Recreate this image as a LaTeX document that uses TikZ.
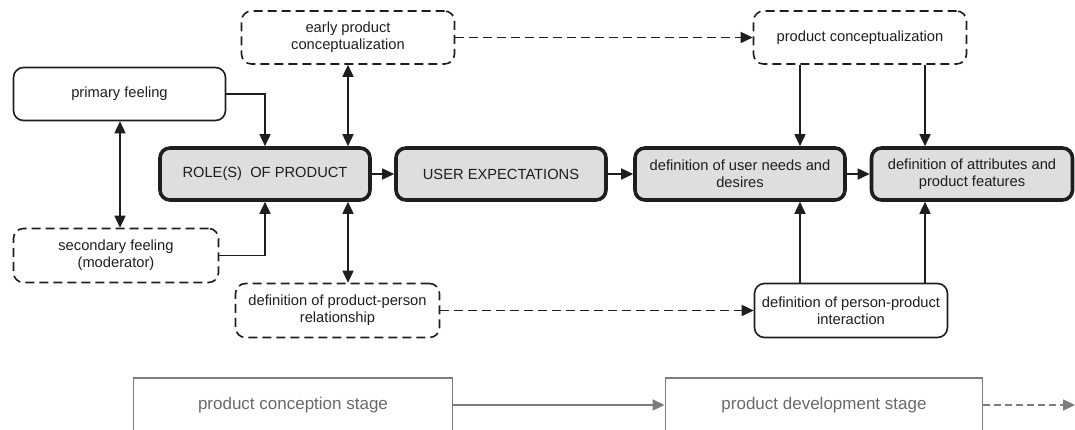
\documentclass[tikz,border=0pt]{standalone}
\usepackage{fontspec}
\setmainfont{Liberation Sans}
\usetikzlibrary{arrows.meta}
\definecolor{maingray}{RGB}{222,222,222}
\definecolor{stagegray}{RGB}{125,125,125}
\definecolor{stagetext}{RGB}{105,105,105}
\definecolor{ink}{RGB}{30,30,30}
\begin{document}
\begin{tikzpicture}[x=1pt,y=-1pt,
  font=\fontsize{14.7}{16.8}\selectfont,
  base/.style={rounded corners=10pt, align=center, inner sep=2pt, text=ink},
  thinbox/.style={base, draw=ink, line width=1.6pt, minimum height=53pt},
  dashbox/.style={thinbox, dash pattern=on 9pt off 5pt},
  mainbox/.style={base, draw=ink, fill=maingray, line width=3.6pt, minimum width=210pt, minimum height=52pt},
  arr/.style={-{Triangle[length=12pt,width=11pt]}, line width=1.6pt, draw=ink},
  darr/.style={{Triangle[length=12pt,width=11pt]}-{Triangle[length=12pt,width=11pt]}, line width=1.6pt, draw=ink},
  dasharr/.style={arr, dash pattern=on 9pt off 5pt},
  stagebox/.style={draw=stagegray, line width=1.8pt, minimum height=54pt, text=stagetext, font=\fontsize{17}{20}\selectfont},
  stagearr/.style={-{Triangle[length=12pt,width=11pt]}, line width=1.6pt, draw=stagegray},
]
\useasboundingbox (0,0) rectangle (1075,429);
\clip (0,0) rectangle (1075,429);

% upper dashed boxes
\node[dashbox, minimum width=213pt] (early) at (348,37.5) {early product\\conceptualization};
\node[dashbox, minimum width=213pt] (prodconc) at (860,37.5) {product conceptualization};

% left feeling boxes
\node[thinbox, minimum width=212pt] (primary) at (119.5,94) {primary feeling};
\node[dashbox, minimum width=205pt, minimum height=54pt] (secondary) at (116,255.5) {secondary feeling\\(moderator)};

% main row
\node[mainbox] (role) at (265,174) {ROLE(S)\ \ OF PRODUCT};
\node[mainbox] (user) at (501,174) {USER EXPECTATIONS};
\node[mainbox] (needs) at (740,174) {definition of user needs and\\desires};
\node[mainbox, minimum width=201pt] (attr) at (972,174) {definition of attributes and\\product features};

% lower boxes
\node[dashbox, minimum width=204pt, minimum height=54pt] (relation) at (337.5,310.5) {definition of product-person\\relationship};
\node[thinbox, minimum width=193pt, minimum height=54pt] (interact) at (851,310.5) {definition of person-product\\interaction};

% stages
\node[stagebox, minimum width=319pt] (conception) at (293,405) {product conception stage};
\node[stagebox, minimum width=317pt] (development) at (824,405) {product development stage};
\coordinate (cont) at (1075,405);

% connectors
\draw[arr] (primary.east) -| (role.north);
\draw[arr] (secondary.east) -| (role.south);
\draw[darr] ([xshift=0.5pt]primary.south) -- ([xshift=0.5pt]primary.south |- secondary.north);
\draw[darr] (early.south) -- (early.south |- role.north);
\draw[darr] (role.south -| early.south) -- (relation.north -| early.south);
\draw[dasharr] (early.east) -- (prodconc.west);
\draw[dasharr] (relation.east) -- (interact.west);
\draw[arr] (role.east) -- (user.west);
\draw[arr] (user.east) -- (needs.west);
\draw[arr] (needs.east) -- (attr.west);
\draw[arr] ([xshift=-60pt]prodconc.south) -- ([xshift=-60pt]prodconc.south |- needs.north);
\draw[arr] ([xshift=65pt]prodconc.south) -- ([xshift=65pt]prodconc.south |- attr.north);
\draw[arr] ([xshift=-51pt]interact.north) -- ([xshift=-51pt]interact.north |- needs.south);
\draw[arr] ([xshift=74pt]interact.north) -- ([xshift=74pt]interact.north |- attr.south);
\draw[stagearr] (conception.east) -- (development.west);
\draw[stagearr, dash pattern=on 7pt off 4pt] (development.east) -- (cont);
\end{tikzpicture}
\end{document}
